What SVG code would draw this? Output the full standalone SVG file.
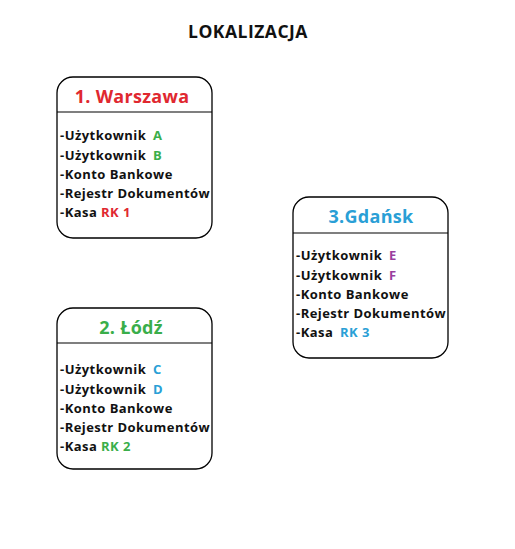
<svg xmlns="http://www.w3.org/2000/svg" width="515" height="549" viewBox="0 0 515 549">
<style>
.box{fill:#fff;stroke:#000;stroke-width:1.3}
.div{stroke:#000;stroke-width:1.2}
.t{font-family:"Open Sans","Liberation Sans",sans-serif;font-weight:bold;font-size:13px;letter-spacing:0.45px;fill:#111}
.h{font-family:"Open Sans","Liberation Sans",sans-serif;font-weight:bold;font-size:18px;text-anchor:middle;letter-spacing:0.3px}
.red{fill:#e0282f}.green{fill:#3aae4a}.blue{fill:#2a9fd6}.purple{fill:#9a3f9e}
</style>
<rect width="515" height="549" fill="#fff"/>
<text x="248" y="38" font-family="'Open Sans','Liberation Sans',sans-serif" font-weight="bold" font-size="17.5" letter-spacing="0.5" text-anchor="middle" fill="#111">LOKALIZACJA</text>
<g id="warszawa">
<rect class="box" x="57" y="77" width="155" height="161" rx="16"/>
<line class="div" x1="57" y1="112" x2="212" y2="112"/>
<text class="h red" x="132" y="103">1. Warszawa</text>
<text class="t" x="60" y="140">-Użytkownik <tspan class="green" dx="3">A</tspan></text>
<text class="t" x="60" y="160">-Użytkownik <tspan class="green" dx="3">B</tspan></text>
<text class="t" x="60" y="179">-Konto Bankowe</text>
<text class="t" x="60" y="198">-Rejestr Dokumentów</text>
<text class="t" x="60" y="217">-Kasa <tspan class="red">RK 1</tspan></text>
</g>
<g id="lodz">
<rect class="box" x="57" y="308" width="155" height="161" rx="16"/>
<line class="div" x1="57" y1="343" x2="212" y2="343"/>
<text class="h green" x="131" y="334">2. Łódź</text>
<text class="t" x="60" y="374">-Użytkownik <tspan class="blue" dx="3">C</tspan></text>
<text class="t" x="60" y="394">-Użytkownik <tspan class="blue" dx="3">D</tspan></text>
<text class="t" x="60" y="413">-Konto Bankowe</text>
<text class="t" x="60" y="432">-Rejestr Dokumentów</text>
<text class="t" x="60" y="451">-Kasa <tspan class="green">RK 2</tspan></text>
</g>
<g id="gdansk">
<rect class="box" x="293" y="197" width="155" height="161" rx="16"/>
<line class="div" x1="293" y1="233" x2="448" y2="233"/>
<text class="h blue" x="371" y="223">3.Gdańsk</text>
<text class="t" x="296" y="260">-Użytkownik <tspan class="purple" dx="3">E</tspan></text>
<text class="t" x="296" y="280">-Użytkownik <tspan class="purple" dx="3">F</tspan></text>
<text class="t" x="296" y="299">-Konto Bankowe</text>
<text class="t" x="296" y="318">-Rejestr Dokumentów</text>
<text class="t" x="296" y="337">-Kasa <tspan class="blue" dx="3">RK 3</tspan></text>
</g>
</svg>
